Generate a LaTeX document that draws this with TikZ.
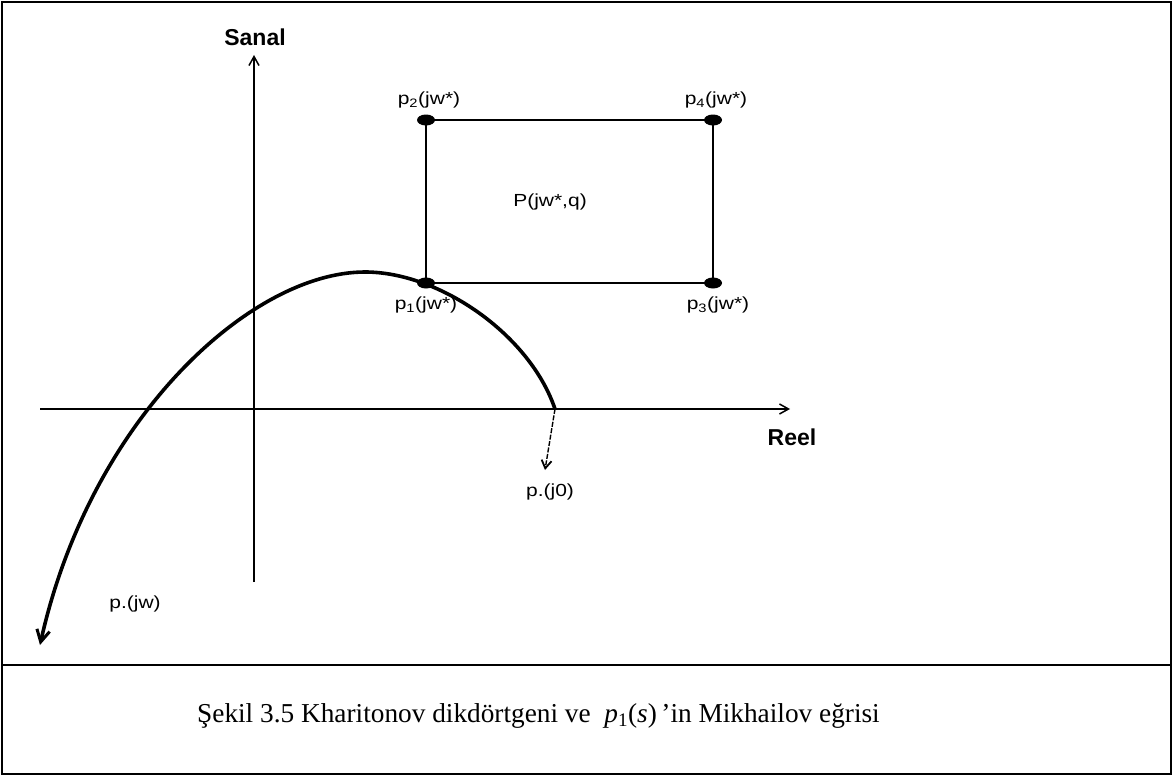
\documentclass[tikz,border=0pt]{standalone}
\usepackage{fontspec}
\setmainfont{Liberation Serif}
\newfontfamily\arialf{Liberation Sans}
\usetikzlibrary{arrows.meta,shapes.geometric}
\begin{document}
\begin{tikzpicture}[x=1pt,y=-1pt,
  axis/.style={line width=1.8pt,-{Straight Barb[length=9pt,width=10pt,line width=1.5pt]}},
  edge/.style={line width=1.8pt},
  curve/.style={line width=3.6pt},
  vdot/.style={ellipse,fill=black,minimum width=18pt,minimum height=11pt,inner sep=0pt},
  lbl/.style={font=\arialf\fontsize{17.5}{19}\selectfont,inner sep=0pt,xscale=1.2},
  axlbl/.style={font=\arialf\bfseries\fontsize{23}{25}\selectfont,inner sep=0pt}]
\useasboundingbox (0,0) rectangle (1173,776);
\draw[line width=1.2pt] (2,2) rectangle (1171,774);
\draw[line width=1.2pt] (2,665) -- (1171,665);
% axes
\coordinate (xs) at (40,409);
\coordinate (xe) at (790,409);
\coordinate (ys) at (254,582);
\coordinate (ye) at (254,55);
\draw[axis] (xs) -- (xe);
\draw[axis] (ys) -- (ye);
\node[axlbl] (sanal) at (255,37) {Sanal};
\node[axlbl] (reel) at (792,437) {Reel};
% rectangle
\coordinate (c2) at (426,120);
\coordinate (c4) at (713,120);
\coordinate (c1) at (426,283);
\coordinate (c3) at (713,283);
\draw[edge] (c1) -- (c2) -- (c4) -- (c3) -- cycle;
\node[vdot] (d2) at (c2) {};
\node[vdot] (d4) at (c4) {};
\node[vdot] (d1) at (c1) {};
\node[vdot] (d3) at (c3) {};
\node[lbl] (l2) at (429,100) {p\textsubscript{2}(jw*)};
\node[lbl] (l4) at (716,100) {p\textsubscript{4}(jw*)};
\node[lbl] (l1) at (426,305) {p\textsubscript{1}(jw*)};
\node[lbl] (l3) at (718,305) {p\textsubscript{3}(jw*)};
\node[lbl] (pq) at (550,202) {P(jw*,q)};
% Mikhailov curve
\coordinate (s0) at (555,409);
\coordinate (pk) at (365,272);
\coordinate (ce) at (40,645);
\draw[curve] (s0) .. controls (530,335) and (440,272) .. (pk);
\draw[curve,-{Straight Barb[length=12pt,width=13pt,line width=3pt]}] (pk) .. controls (250,272) and (90,420) .. (ce);
\coordinate (a0) at (545,470);
\draw[line width=1.4pt,dashed,dash pattern=on 5pt off 1.5pt,-{Straight Barb[length=8pt,width=10pt,line width=1.8pt]}] (s0) -- (a0);
\node[lbl] (lj0) at (550,492) {p.(j0)};
\node[lbl] (ljw) at (135,604) {p.(jw)};
% caption
\node[anchor=base west,inner sep=0pt,font=\fontsize{27.3}{30}\selectfont] (cap) at (197,722)
  {Şekil 3.5 Kharitonov dikdörtgeni ve \ \textit{p}\textsubscript{1}(\textit{s})\,’in Mikhailov eğrisi};
\end{tikzpicture}
\end{document}
